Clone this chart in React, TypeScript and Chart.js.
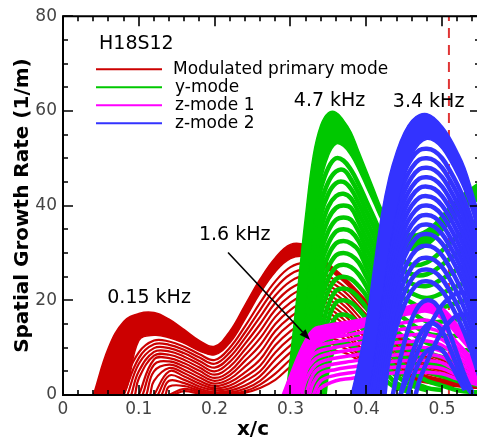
import { useEffect, useRef } from "react";
import { Chart, registerables } from "chart.js";

Chart.register(...registerables);

const FONT = "'DejaVu Sans', 'Liberation Sans', sans-serif";

// ---- axes ----
const xMin = 0;
const xMax = 0.55;
const yMin = 0;
const yMax = 80;
const xTickValues = [0, 0.1, 0.2, 0.3, 0.4, 0.5];
const yTickValues = [0, 20, 40, 60, 80];
const xTitle = "x/c";
const yTitle = "Spatial Growth Rate (1/m)";

// ---- colours ----
const RED = "#cc0000";
const GREEN = "#00c800";
const MAGENTA = "#ff00ff";
const BLUE = "#3333ff";
const DASH_RED = "#e03535";

// ---- legend / labels ----
const legendTitle = "H18S12";
const legendLabels = ["Modulated primary mode", "y-mode", "z-mode 1", "z-mode 2"];
const legendColors = [RED, GREEN, MAGENTA, BLUE];
const annotationTexts = ["0.15 kHz", "1.6 kHz", "4.7 kHz", "3.4 kHz"];
const annotationX = [0.1135, 0.2265, 0.3516, 0.4822];
const annotationY = [20.4, 33.7, 62.1, 61.9];
const arrowX = [0.2177, 0.3259];
const arrowY = [30.1, 11.6];

// ---- dashed marker line ----
const dashedX = [0.509, 0.509];
const dashedY = [0, 80];

const n = null;

// ---- modulated primary mode (red) ----
const redX = [0.04, 0.06, 0.08, 0.10, 0.12, 0.14, 0.16, 0.18, 0.20, 0.22, 0.24, 0.26, 0.28, 0.30, 0.32, 0.34, 0.37, 0.40, 0.44, 0.48, 0.55];
const redStart = [0.04, 0.04, 0.075, 0.08, 0.085, 0.09, 0.095, 0.10, 0.105, 0.11, 0.115, 0.12, 0.125, 0.13, 0.135, 0.14, 0.145];
const redY = [
  [n, 10, 15.5, 17.2, 17.4, 16.0, 13.8, 11.5, 10.3, 13.5, 19.0, 24.5, 29.0, 31.8, 31.6, 29.0, 25.0, 20.0, 13.0, 9.0, 5.0],
  [n, 0, 0, 11.5, 12.6, 12.1, 10.9, 9.3, 8.5, 11.0, 16.0, 21.5, 26.0, 28.8, 29.2, 27.5, 24.0, 19.0, 12.0, 8.5, 4.8],
  [n, n, 2.5, 9.0, 11.5, 11.3, 10.2, 8.6, 7.4, 10.0, 14.5, 19.5, 24.0, 27.0, 27.8, 26.0, 23.0, 18.0, 11.5, 8.0, 4.5],
  [n, n, n, 7.8, 10.7, 10.6, 9.5, 7.9, 6.6, 9.0, 13.2, 18.0, 22.5, 25.5, 26.5, 25.0, 22.0, 17.0, 11.0, 7.5, 4.2],
  [n, n, n, 6.6, 9.9, 9.9, 8.8, 7.2, 5.8, 8.0, 12.0, 16.5, 21.0, 24.0, 25.2, 24.0, 21.0, 16.0, 10.5, 7.0, 4.0],
  [n, n, n, 5.0, 9.1, 9.2, 8.1, 6.5, 5.0, 7.0, 10.8, 15.0, 19.5, 22.5, 23.8, 23.0, 20.0, 15.0, 10.0, 6.5, 3.8],
  [n, n, n, 3.5, 8.3, 8.5, 7.4, 5.8, 4.3, 6.0, 9.6, 13.5, 18.0, 21.0, 22.5, 22.0, 19.0, 14.0, 9.5, 6.0, 3.5],
  [n, n, n, n, 7.5, 7.8, 6.7, 5.1, 3.6, 5.0, 8.4, 12.0, 16.5, 19.5, 21.2, 21.0, 18.0, 13.0, 9.0, 5.5, 3.2],
  [n, n, n, n, 6.4, 7.1, 6.0, 4.4, 3.0, 4.2, 7.2, 10.5, 15.0, 18.0, 19.8, 20.0, 17.0, 12.0, 8.5, 5.0, 3.0],
  [n, n, n, n, 5.0, 6.4, 5.3, 3.7, 2.4, 3.4, 6.0, 9.0, 13.5, 16.5, 18.5, 19.0, 16.0, 11.0, 8.0, 4.5, 2.8],
  [n, n, n, n, 3.0, 5.7, 4.6, 3.0, 1.9, 2.7, 4.8, 7.5, 12.0, 15.0, 17.0, 18.0, 15.0, 10.0, 7.5, 4.0, 2.5],
  [n, n, n, n, n, 5.0, 3.9, 2.4, 1.4, 2.0, 3.8, 6.2, 10.5, 13.5, 15.6, 16.8, 14.0, 9.0, 7.0, 3.8, 2.2],
  [n, n, n, n, n, 4.1, 3.2, 1.8, 1.0, 1.4, 2.9, 5.0, 9.0, 12.0, 14.2, 15.5, 13.0, 8.5, 6.5, 3.5, 2.0],
  [n, n, n, n, n, 3.0, 2.5, 1.3, 0.6, 0.9, 2.0, 4.0, 7.5, 10.5, 12.8, 14.0, 12.0, 8.0, 6.0, 3.2, 1.8],
  [n, n, n, n, n, 1.8, 1.9, 0.9, 0.35, 0.5, 1.3, 3.0, 6.0, 9.0, 11.4, 12.5, 11.0, 7.5, 5.5, 3.0, 1.6],
  [n, n, n, n, n, n, 1.3, 0.6, 0.2, 0.3, 0.8, 2.2, 4.5, 7.5, 10.0, 11.0, 10.0, 7.0, 5.0, 2.8, 1.5],
  [n, n, n, n, n, n, 0.8, 0.3, 0.1, 0.2, 0.5, 1.5, 3.2, 6.0, 8.5, 9.5, 9.0, 6.5, 4.5, 2.6, 1.4],
];

// ---- y-mode (green) ----
const greenX = [0.29, 0.30, 0.31, 0.32, 0.33, 0.34, 0.35, 0.36, 0.37, 0.38, 0.39, 0.40, 0.41, 0.42, 0.43, 0.44, 0.46, 0.48, 0.50, 0.52, 0.55];
const greenStart = [0.294, 0.294, 0.300, 0.302, 0.304, 0.306, 0.308, 0.310, 0.312, 0.315, 0.318, 0.321, 0.325, 0.330, 0.333, 0.336, 0.340, 0.345];
const greenY = [
  [n, 8, 23, 38, 50.5, 57, 59.6, 59.7, 58.0, 55.5, 51.5, 47.5, 43.5, 39.5, 37.0, 35.5, 34.0, 35.0, 38.0, 41.5, 45.0],
  [n, 0, 0, 20, 36, 45, 50.5, 53, 52.5, 50.5, 47.5, 44, 40.5, 37, 34.5, 32.5, 30.5, 31.5, 34.5, 38, 41.5],
  [n, n, 10, 24, 36, 43.5, 48, 50, 49.5, 47.5, 44.5, 41, 37.5, 34, 31.5, 29.5, 27.5, 28, 30.5, 33.5, 37],
  [n, n, 8, 21.5, 33, 40.5, 45, 47.2, 47.5, 45.5, 42.5, 39, 35.5, 32, 29.5, 27.5, 25.5, 25.5, 27.5, 30, 33],
  [n, n, 6, 19, 30, 38, 42.5, 44.7, 45, 43.5, 40.5, 37, 33.5, 30, 27.5, 25.5, 23.5, 23, 24.5, 26.5, 29],
  [n, n, 4, 16.5, 27, 35, 39.8, 42, 42.5, 41.5, 38.5, 35, 31.5, 28, 25.5, 23.5, 21.5, 20.5, 21.5, 23, 25],
  [n, n, 2, 14, 24.5, 32.5, 37.2, 39.5, 40, 39.5, 36.5, 33, 29.5, 26, 23.5, 21.5, 19.5, 18, 18.5, 19.5, 21],
  [n, n, n, 12, 22, 30, 34.6, 37, 37.5, 37, 34.5, 31, 27.5, 24, 21.5, 19.5, 17.5, 15.5, 15.5, 16, 17],
  [n, n, n, 10, 19.5, 27.5, 32, 34.5, 35, 34.5, 32.5, 29, 25.5, 22, 19.5, 17.5, 15, 13, 12.5, 12.5, 13],
  [n, n, n, 7, 17, 25, 29.5, 32, 32.5, 32, 30.5, 27, 23.5, 20, 17.5, 15.5, 13, 11, 10, 9.5, 9.5],
  [n, n, n, 3.5, 14.5, 22.5, 27, 29.5, 30, 29.5, 28, 25, 21.5, 18, 15.5, 13.5, 11, 9, 8, 7, 6.5],
  [n, n, n, n, 12, 20, 24.5, 27, 27.5, 27, 25.5, 23, 19.5, 16, 13.5, 11.5, 9, 7, 6, 5, 4],
  [n, n, n, n, 7, 17, 22, 24.5, 25, 24.5, 23, 21, 17.5, 14, 11.5, 9.5, 7, 5, 4, 3, 2],
  [n, n, n, n, n, 13, 19, 22, 22.5, 22, 20.5, 18.5, 15.5, 12, 9.5, 7.5, 5, 3, 2, 1, 0.5],
  [n, n, n, n, n, 9, 16, 19.5, 20, 19.5, 18, 16, 13, 10, 7.5, 5.5, 3, 1.5, 1, n, n],
  [n, n, n, n, n, 5, 13, 16.5, 17, 16.5, 15, 13, 10.5, 8, 5.5, 4, 2, 1, n, n, n],
  [n, n, n, n, n, n, 10, 13.5, 14, 13.5, 12, 10, 8, 6, 4, 2.5, 1, n, n, n, n],
  [n, n, n, n, n, n, 6, 10.5, 11, 10.5, 9.5, 8, 6, 4, 2.5, 1.5, 0.5, n, n, n, n],
];

// ---- z-mode 1 (magenta) ----
const magentaX = [0.29, 0.30, 0.31, 0.32, 0.33, 0.34, 0.36, 0.38, 0.40, 0.42, 0.44, 0.46, 0.48, 0.50, 0.52, 0.55];
const magentaStart = [0.289, n, 0.295, 0.30, 0.305, 0.31, 0.315, 0.32, 0.325, 0.33, 0.335];
const magentaY = [
  [n, 4.5, 8.5, 11.8, 14.0, 14.6, 15.2, 15.7, 16.3, 17, 18, 19, 19.5, 18.5, 15, 9],
  [0, 0, 0, 4, 9, 11, 12.5, 13.5, 14.5, 15.5, 16.5, 17, 17.5, 16, 12.5, 7],
  [n, 2.5, 6.5, 9.5, 11, 11.8, 12.3, 12.8, 13.4, 14.2, 15, 15.5, 15.8, 14.5, 11, 6],
  [n, n, 5, 8, 9.8, 10.6, 11.2, 11.7, 12.3, 13, 13.7, 14.1, 14.2, 13, 10, 5.5],
  [n, n, 3, 6.5, 8.5, 9.4, 10.1, 10.6, 11.2, 11.8, 12.4, 12.7, 12.8, 11.7, 9, 5],
  [n, n, n, 5, 7.2, 8.2, 9, 9.5, 10, 10.6, 11.1, 11.3, 11.4, 10.5, 8, 4.5],
  [n, n, n, 3, 5.8, 7, 7.8, 8.3, 8.8, 9.3, 9.8, 10, 10, 9.2, 7, 4],
  [n, n, n, n, 4.4, 5.8, 6.6, 7.1, 7.6, 8.1, 8.5, 8.7, 8.6, 8, 6, 3.5],
  [n, n, n, n, 2.5, 4.5, 5.4, 5.9, 6.4, 6.8, 7.2, 7.3, 7.3, 6.8, 5, 3],
  [n, n, n, n, n, 3, 4.2, 4.7, 5.2, 5.6, 5.9, 6, 6, 5.6, 4.2, 2.5],
  [n, n, n, n, n, 1.5, 3, 3.5, 4, 4.4, 4.7, 4.8, 4.8, 4.5, 3.4, 2],
];

// ---- z-mode 2 (blue) ----
const blueX = [0.38, 0.39, 0.40, 0.41, 0.42, 0.43, 0.44, 0.45, 0.46, 0.47, 0.48, 0.49, 0.50, 0.51, 0.52, 0.53, 0.54, 0.55];
const blueStart = [0.38, n, 0.385, 0.388, 0.391, 0.394, 0.397, 0.40, 0.403, 0.406, 0.409, 0.412, 0.415, 0.418, 0.421, 0.424, 0.435, 0.445, 0.455, 0.445, 0.465];
const blueY = [
  [n, 7, 15.5, 27, 38, 46, 51.5, 55.5, 58, 59.2, 59.4, 58.5, 56.8, 54.5, 51.5, 48, 43, 37.5],
  [0, 0, 0, 8, 20, 31, 39.5, 46, 50.5, 53, 54, 53.5, 52, 49.5, 46.5, 43, 38.5, 33],
  [n, 3, 10, 19, 28.5, 36.5, 42.5, 47, 50, 51.7, 52, 51.5, 50, 47.5, 44.5, 41, 36.5, 31.5],
  [n, 1.5, 8, 17, 26.5, 34.5, 40.5, 45, 48, 49.7, 50, 49.5, 48, 45.5, 42.5, 39, 34.5, 29.5],
  [n, n, 6, 15, 24.5, 32.5, 38.5, 43, 46, 47.7, 48, 47.5, 46, 43.5, 40.5, 37, 32.5, 27.5],
  [n, n, 4, 13, 22.5, 30.5, 36.5, 41, 44, 45.7, 46, 45.5, 44, 41.5, 38.5, 35, 30.5, 25.5],
  [n, n, 2, 11, 20.5, 28.5, 34.5, 39, 42, 43.7, 44, 43.5, 42, 39.5, 36.5, 33, 28.5, 23.5],
  [n, n, n, 9, 18.5, 26.5, 32.5, 37, 40, 41.7, 42, 41.5, 40, 37.5, 34.5, 31, 26.5, 21.5],
  [n, n, n, 7, 16.5, 24.5, 30.5, 35, 38, 39.7, 40, 39.5, 38, 35.5, 32.5, 29, 24.5, 19.5],
  [n, n, n, 4.5, 14.5, 22.5, 28.5, 33, 36, 37.7, 38, 37.5, 36, 33.5, 30.5, 27, 22.5, 17.5],
  [n, n, n, 1.5, 12, 20.5, 26.5, 31, 34, 35.7, 36, 35.5, 34, 31.5, 28.5, 25, 20.5, 15.5],
  [n, n, n, n, 9.5, 18.5, 24.5, 29, 32, 33.7, 34, 33.5, 32, 29.5, 26.5, 23, 18.5, 13.5],
  [n, n, n, n, 6.5, 16, 22, 26.5, 29.5, 31.2, 31.5, 31, 29.5, 27, 24, 20.5, 16, 11],
  [n, n, n, n, 3, 13.5, 19.5, 24, 27, 28.7, 29, 28.5, 27, 24.5, 21.5, 18, 13.5, 8.5],
  [n, n, n, n, n, 11, 17, 21.5, 24.5, 26.2, 26.5, 26, 24.5, 22, 19, 15.5, 11, 6],
  [n, n, n, n, n, 8, 14.5, 19, 22, 23.7, 24, 23.5, 22, 19.5, 16.5, 13, 8.5, 3.5],
  [n, n, n, n, n, n, 4, 11, 16, 19, 20, 19.5, 17, 13, 8.5, 4, 0.5, n],
  [n, n, n, n, n, n, n, 3, 8.5, 12.5, 14.8, 15, 13.5, 10, 6, 2.5, 0, n],
  [n, n, n, n, n, n, n, n, 3, 7, 9.3, 10, 9.5, 7, 4, 1, n, n],
  [n, n, n, n, n, n, n, 2, 6, 10, 13.5, 16.5, 19, 20.5, 21.5, 21.5, 20.5, 19],
  [n, n, n, n, n, n, n, n, n, 3, 7, 10.5, 13.5, 15.5, 16.8, 17, 16.5, 15.5],
];

type Pt = { x: number; y: number };

function curvePoints(xs: number[], ys: (number | null)[], start: number | null): Pt[] {
  const pts: Pt[] = [];
  if (start !== null && start !== undefined) pts.push({ x: start, y: 0 });
  ys.forEach((v, i) => {
    if (v !== null && v !== undefined) pts.push({ x: xs[i], y: v });
  });
  return pts;
}

function familyDatasets(
  xs: number[],
  curves: (number | null)[][],
  starts: (number | null)[],
  color: string,
  width: number,
  order: number
) {
  return curves.map((ys, i) => ({
    data: curvePoints(xs, ys, starts[i]),
    borderColor: color,
    backgroundColor: color,
    borderWidth: i < 2 ? 1.5 : width,
    pointRadius: 0,
    tension: 0.4,
    fill: i === 0 ? "+1" : false,
    order,
  }));
}

const overlayPlugin = {
  id: "overlay",
  afterDatasetsDraw(chart: any) {
    const { ctx, chartArea: a, scales } = chart;
    const xs = scales.x;
    const ys = scales.y;
    ctx.save();
    ctx.strokeStyle = "#000";
    ctx.lineWidth = 2;
    ctx.beginPath();
    ctx.moveTo(a.left, a.top);
    ctx.lineTo(a.left, a.bottom);
    ctx.lineTo(a.right, a.bottom);
    ctx.lineTo(a.right, a.top);
    ctx.closePath();
    ctx.stroke();
    ctx.lineWidth = 1.6;
    ctx.beginPath();
    for (let i = 0; i * 0.02 <= xMax + 1e-9; i++) {
      const px = Math.round(xs.getPixelForValue(i * 0.02));
      const len = i % 5 === 0 ? 10 : 5;
      ctx.moveTo(px, a.bottom);
      ctx.lineTo(px, a.bottom - len);
      ctx.moveTo(px, a.top);
      ctx.lineTo(px, a.top + len);
    }
    for (let i = 0; i * 5 <= yMax; i++) {
      const py = Math.round(ys.getPixelForValue(i * 5));
      const len = i % 4 === 0 ? 10 : 5;
      ctx.moveTo(a.left, py);
      ctx.lineTo(a.left + len, py);
      ctx.moveTo(a.right, py);
      ctx.lineTo(a.right - len, py);
    }
    ctx.stroke();
    ctx.restore();
  },
  afterDraw(chart: any) {
    const { ctx, chartArea: a, scales } = chart;
    const xs = scales.x;
    const ys = scales.y;
    ctx.save();
    ctx.fillStyle = "#000";
    // legend
    ctx.textAlign = "left";
    ctx.textBaseline = "middle";
    ctx.font = `19px ${FONT}`;
    ctx.fillText(legendTitle, a.left + 36, a.top + 28);
    ctx.font = `17px ${FONT}`;
    legendLabels.forEach((lab, i) => {
      const yy = a.top + 53 + i * 18;
      ctx.strokeStyle = legendColors[i];
      ctx.lineWidth = 2;
      ctx.beginPath();
      ctx.moveTo(a.left + 33, yy);
      ctx.lineTo(a.left + 99, yy);
      ctx.stroke();
      ctx.fillText(lab, a.left + 110 + (i === 0 ? 0 : 2), yy);
    });
    // annotations
    ctx.textAlign = "center";
    ctx.font = `19px ${FONT}`;
    annotationTexts.forEach((t, i) => {
      ctx.fillText(t, xs.getPixelForValue(annotationX[i]), ys.getPixelForValue(annotationY[i]));
    });
    // arrow
    const x0 = xs.getPixelForValue(arrowX[0]);
    const y0 = ys.getPixelForValue(arrowY[0]);
    const x1 = xs.getPixelForValue(arrowX[1]);
    const y1 = ys.getPixelForValue(arrowY[1]);
    const ang = Math.atan2(y1 - y0, x1 - x0);
    const hl = 11;
    const hw = 4;
    ctx.strokeStyle = "#000";
    ctx.lineWidth = 1.6;
    ctx.beginPath();
    ctx.moveTo(x0, y0);
    ctx.lineTo(x1 - hl * Math.cos(ang), y1 - hl * Math.sin(ang));
    ctx.stroke();
    ctx.beginPath();
    ctx.moveTo(x1, y1);
    ctx.lineTo(x1 - hl * Math.cos(ang) + hw * Math.sin(ang), y1 - hl * Math.sin(ang) - hw * Math.cos(ang));
    ctx.lineTo(x1 - hl * Math.cos(ang) - hw * Math.sin(ang), y1 - hl * Math.sin(ang) + hw * Math.cos(ang));
    ctx.closePath();
    ctx.fill();
    // x title
    ctx.font = `bold 20px ${FONT}`;
    ctx.fillText(xTitle, 253, 430);
    ctx.restore();
  },
};

export default function App() {
  const ref = useRef<HTMLCanvasElement | null>(null);
  useEffect(() => {
    if (!ref.current) return;
    const datasets: any[] = [
      {
        data: dashedX.map((x, i) => ({ x, y: dashedY[i] })),
        borderColor: DASH_RED,
        borderWidth: 2,
        borderDash: [10, 7],
        pointRadius: 0,
        fill: false,
        order: 100,
      },
      ...familyDatasets(redX, redY, redStart, RED, 2.2, 90),
      ...familyDatasets(greenX, greenY, greenStart, GREEN, 4.5, 80),
      ...familyDatasets(magentaX, magentaY, magentaStart, MAGENTA, 3.5, 70),
      ...familyDatasets(blueX, blueY, blueStart, BLUE, 4.5, 60),
    ];
    const chart = new Chart(ref.current, {
      type: "line",
      data: { datasets },
      options: {
        animation: false,
        responsive: false,
        parsing: false as any,
        normalized: true,
        layout: { padding: { left: 0, top: 15, right: 10, bottom: 0 } },
        plugins: { legend: { display: false }, tooltip: { enabled: false } },
        scales: {
          x: {
            type: "linear",
            min: xMin,
            max: xMax,
            grid: { display: false, drawTicks: false },
            border: { display: false },
            afterBuildTicks: (s: any) => {
              s.ticks = xTickValues.map((v) => ({ value: v }));
            },
            afterFit: (s: any) => {
              s.height = 47;
            },
            ticks: {
              color: "#444",
              font: { family: FONT, size: 17 },
              padding: 4,
              maxRotation: 0,
              autoSkip: false,
              callback: (v: any) => String(Math.round(Number(v) * 10) / 10),
            },
          },
          y: {
            type: "linear",
            min: yMin,
            max: yMax,
            grid: { display: false, drawTicks: false },
            border: { display: false },
            afterBuildTicks: (s: any) => {
              s.ticks = yTickValues.map((v) => ({ value: v }));
            },
            afterFit: (s: any) => {
              s.width = 63;
            },
            ticks: {
              color: "#444",
              font: { family: FONT, size: 17 },
              padding: 6,
              autoSkip: false,
            },
            title: {
              display: true,
              text: yTitle,
              color: "#000",
              font: { family: FONT, size: 20, weight: "bold" },
              padding: { top: 11, bottom: 0 },
            },
          },
        },
      },
      plugins: [overlayPlugin],
    });
    return () => chart.destroy();
  }, []);
  return (
    <div
      style={{
        position: "fixed",
        left: 0,
        top: 0,
        width: 477,
        height: 442,
        overflow: "hidden",
        background: "#fff",
      }}
    >
      <canvas ref={ref} width={490} height={442} style={{ display: "block" }} />
    </div>
  );
}
